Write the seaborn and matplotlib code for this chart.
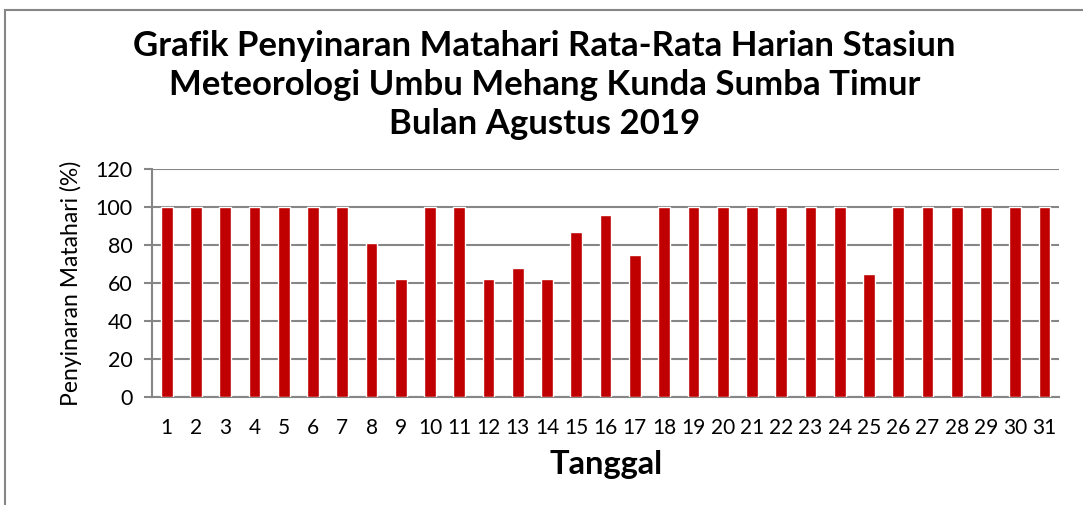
import matplotlib.pyplot as plt
import seaborn as sns
import pandas as pd
from matplotlib.patches import Rectangle
from matplotlib.ticker import FixedLocator

days = [str(d) for d in range(1, 32)]
sunshine = [100, 100, 100, 100, 100, 100, 100, 81, 62, 100,
            100, 62, 68, 62, 87, 96, 75, 100, 100, 100,
            100, 100, 100, 100, 65, 100, 100, 100, 100, 100, 100]
y_ticks = [0, 20, 40, 60, 80, 100, 120]

df = pd.DataFrame({"Tanggal": days, "Penyinaran": sunshine})

sns.set_style("white")
plt.rcParams["font.family"] = ["Lato", "DejaVu Sans"]
plt.rcParams["text.color"] = "black"
plt.rcParams["axes.labelcolor"] = "black"
plt.rcParams["xtick.color"] = "black"
plt.rcParams["ytick.color"] = "black"

grid_col = "#868686"
fig = plt.figure(figsize=(10.83, 5.05), dpi=100)
ax = fig.add_axes([0.1404, 0.2139, 0.978 - 0.1404, 0.6653 - 0.2139])

sns.barplot(data=df, x="Tanggal", y="Penyinaran", color="#C00000",
            width=0.4, saturation=1, ax=ax, zorder=3)

ax.set_ylim(0, 120)
ax.set_xlim(-0.5, len(days) - 0.5)
ax.set_yticks(y_ticks)
ax.yaxis.grid(True, color=grid_col, linewidth=1.5, zorder=0)
ax.set_axisbelow(True)

for side in ["top", "right"]:
    ax.spines[side].set_visible(False)
for side in ["left", "bottom"]:
    ax.spines[side].set_color(grid_col)
    ax.spines[side].set_linewidth(1.5)

ax.xaxis.set_minor_locator(FixedLocator([i - 0.5 for i in range(len(days) + 1)]))
ax.tick_params(axis="x", which="major", length=0, labelsize=15, pad=15)
ax.tick_params(axis="x", which="minor", length=6, width=1.5, color=grid_col, direction="out")
ax.tick_params(axis="y", which="major", length=6, width=1.5, color=grid_col,
               labelcolor="black", direction="out", labelsize=15.5, pad=8, left=True)

ax.set_xlabel("Tanggal", fontsize=23.5, fontweight="bold", labelpad=9)
ax.set_ylabel("Penyinaran Matahari (%)", fontsize=16.5, labelpad=10)

fig.text(0.503, 0.832, "Grafik Penyinaran Matahari Rata-Rata Harian Stasiun\n"
         "Meteorologi Umbu Mehang Kunda Sumba Timur\nBulan Agustus 2019",
         ha="center", va="center", fontsize=25, fontweight="bold", linespacing=1.28)

# chart-area frame (partially cropped in the reference)
fig.patches.append(Rectangle((5 / 1083, -0.1), 1.2, 1 - 10 / 505 + 0.1,
                             transform=fig.transFigure, fill=False,
                             edgecolor=grid_col, linewidth=1.5))

fig.savefig("out.png", dpi=100)
